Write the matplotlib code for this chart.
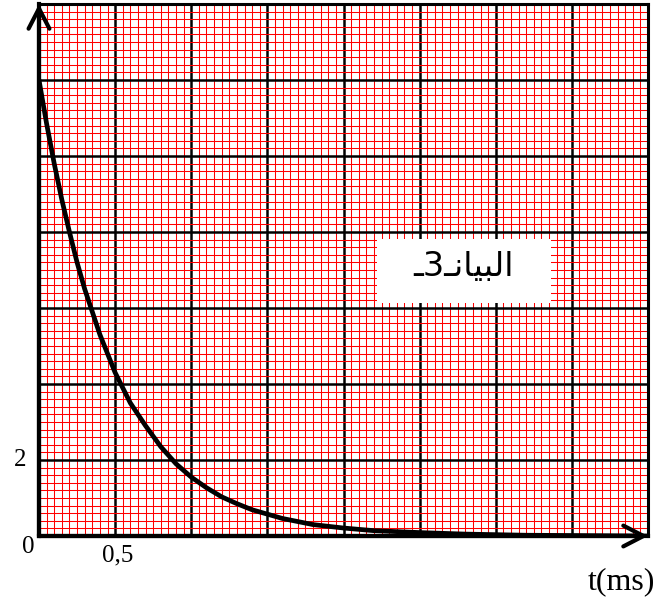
import matplotlib.pyplot as plt
from matplotlib.patches import Rectangle
import numpy as np

# values: t in ms, u in graph units
t = [0, 0.05, 0.1, 0.15, 0.2, 0.25, 0.3, 0.35, 0.4, 0.45, 0.5, 0.55, 0.6,
     0.7, 0.8, 0.9, 1.0, 1.1, 1.2, 1.3, 1.4, 1.6, 1.8, 2.0, 2.2, 2.5,
     2.8, 3.2, 3.6, 4.0]
u = [12, 10.85, 9.8, 8.85, 8.0, 7.2, 6.5, 5.9, 5.3, 4.8, 4.3, 3.9, 3.5,
     2.9, 2.35, 1.9, 1.55, 1.27, 1.03, 0.85, 0.69, 0.46, 0.30, 0.21, 0.14, 0.09,
     0.05, 0.02, 0.01, 0.0]

t_max, u_max = 4.0, 14.0
t_major, u_major = 0.5, 2.0
t_minor, u_minor = 0.05, 0.2

W, H = 672, 603
fig = plt.figure(figsize=(W / 100, H / 100), dpi=100)
ax = fig.add_axes([39 / W, 67 / H, (648 - 39) / W, (599 - 67) / H])
ax.set_xlim(0, t_max)
ax.set_ylim(0, u_max)

# graph paper
ax.set_xticks(np.arange(0, t_max + 1e-9, t_major))
ax.set_yticks(np.arange(0, u_max + 1e-9, u_major))
ax.set_xticks(np.arange(0, t_max + 1e-9, t_minor), minor=True)
ax.set_yticks(np.arange(0, u_max + 1e-9, u_minor), minor=True)
ax.grid(which='minor', color='#ff0000', lw=0.75)
ax.grid(which='major', color='black', lw=1.8)
ax.tick_params(which='both', length=0, labelbottom=False, labelleft=False)
ax.set_axisbelow(True)
for s in ['top', 'right']:
    ax.spines[s].set_linewidth(2.2)
for s in ['left', 'bottom']:
    ax.spines[s].set_linewidth(3)

# axes arrows
arr = dict(arrowstyle='->, head_length=1.45, head_width=0.75', lw=3, color='black',
           shrinkA=0, shrinkB=0)
ax.annotate('', xy=(0, 1), xytext=(0, 0), xycoords='axes fraction', arrowprops=arr,
            annotation_clip=False)
ax.annotate('', xy=(1, 0), xytext=(0, 0), xycoords='axes fraction', arrowprops=arr,
            annotation_clip=False)

ax.plot(t, u, color='black', lw=3.4, zorder=5, solid_capstyle='round')

# label box
ax.add_patch(Rectangle((2.22, 6.13), 1.14, 1.69, facecolor='white', edgecolor='none', zorder=3))
ax.text(2.79, 7.1, 'ـ3ـﻧﺎﻴﺒﻟﺍ', fontsize=24, family='DejaVu Sans',
        ha='center', va='center', zorder=4)

serif = 'Liberation Serif'
fig.text(20 / W, 1 - 460 / H, '2', fontsize=18, family=serif, ha='center', va='center')
fig.text(28 / W, 1 - 547 / H, '0', fontsize=18, family=serif, ha='center', va='center')
fig.text(118 / W, 1 - 555 / H, '0,5', fontsize=18, family=serif, ha='center', va='center')
fig.text(621 / W, 1 - 582 / H, 't(ms)', fontsize=23, family=serif, ha='center', va='center')

fig.savefig('out.png', dpi=100)
